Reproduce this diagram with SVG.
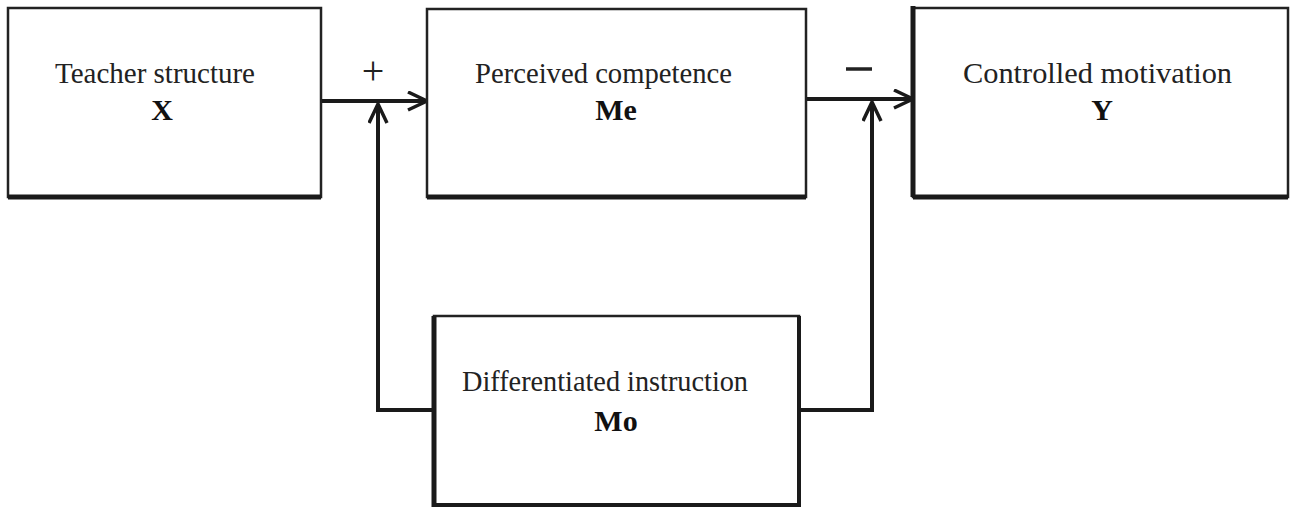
<svg xmlns="http://www.w3.org/2000/svg" width="1294" height="507" viewBox="0 0 1294 507">
<style>
.box{fill:#fff;stroke:#222;stroke-width:2.5}
.bb{stroke:#1a1a1a;stroke-width:5;fill:none}
.lbl{font-family:"Liberation Serif","Times New Roman",serif;font-size:30px;fill:#222}
.var{font-family:"Liberation Serif","Times New Roman",serif;font-size:30px;font-weight:bold;fill:#111}
.sign{font-family:"Liberation Serif","Times New Roman",serif;font-size:40px;fill:#222}
.conn{stroke:#1a1a1a;stroke-width:4;fill:none}
</style>
<defs>
<marker id="ah" markerWidth="24" markerHeight="24" refX="20" refY="10" orient="auto" markerUnits="userSpaceOnUse">
<path d="M1,1 L20,10 L1,19" fill="none" stroke="#1a1a1a" stroke-width="3.5"/>
</marker>
</defs>
<rect width="1294" height="507" fill="#fff"/>
<g id="connectors">
<line class="conn" x1="321" y1="101" x2="427" y2="101" marker-end="url(#ah)"/>
<polyline class="conn" points="434,410 378,410 378,104" marker-end="url(#ah)"/>
<line class="conn" x1="806" y1="99" x2="913" y2="99" marker-end="url(#ah)"/>
<polyline class="conn" points="799,410 872,410 872,102" marker-end="url(#ah)"/>
<text class="sign" x="373" y="84" text-anchor="middle">+</text>
<line x1="846" y1="69" x2="872" y2="69" stroke="#222" stroke-width="3.5"/>
</g>
<g id="node-x">
<rect class="box" x="8" y="8" width="313" height="189"/>
<line class="bb" x1="8" y1="197" x2="321" y2="197"/>
<text class="lbl" x="55" y="83" textLength="200" lengthAdjust="spacingAndGlyphs">Teacher structure</text>
<text class="var" x="162" y="120" text-anchor="middle">X</text>
</g>
<g id="node-me">
<rect class="box" x="427" y="9" width="379" height="188" stroke-width="3.5"/>
<line class="bb" x1="427" y1="197" x2="806" y2="197"/>
<text class="lbl" x="475" y="83" textLength="257" lengthAdjust="spacingAndGlyphs">Perceived competence</text>
<text class="var" x="616" y="120" text-anchor="middle">Me</text>
</g>
<g id="node-y">
<rect class="box" x="913" y="8" width="375" height="189"/>
<line class="bb" x1="913" y1="6" x2="913" y2="197"/>
<line class="bb" x1="913" y1="197" x2="1288" y2="197"/>
<text class="lbl" x="963" y="83" textLength="269" lengthAdjust="spacingAndGlyphs">Controlled  motivation</text>
<text class="var" x="1102" y="120" text-anchor="middle">Y</text>
</g>
<g id="node-mo">
<rect class="box" x="434" y="316" width="365" height="189"/>
<line class="bb" x1="434" y1="316" x2="434" y2="507"/>
<line class="conn" x1="799" y1="316" x2="799" y2="507"/>
<line class="conn" x1="434" y1="505" x2="799" y2="505"/>
<text class="lbl" x="462" y="391" textLength="286" lengthAdjust="spacingAndGlyphs">Differentiated instruction</text>
<text class="var" x="616" y="431" text-anchor="middle">Mo</text>
</g>
</svg>
